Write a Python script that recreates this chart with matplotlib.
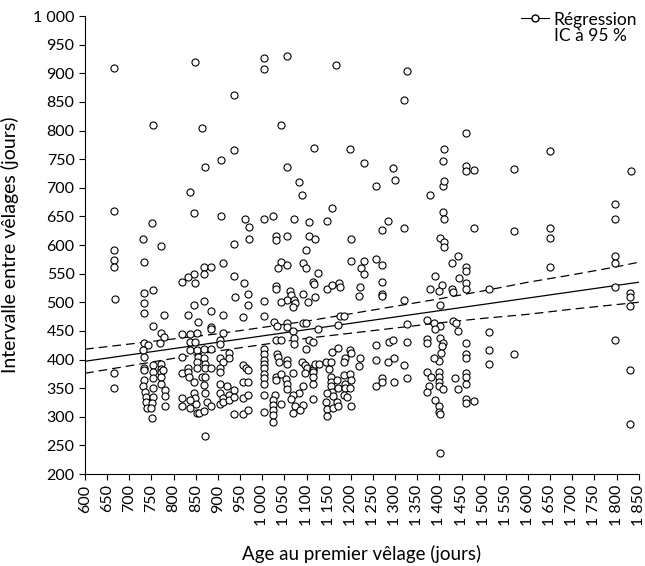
import matplotlib
matplotlib.use("Agg")
import matplotlib.pyplot as plt
from matplotlib.lines import Line2D

plt.rcParams['font.family'] = ['Lato', 'DejaVu Sans']

# individual cows: age at first calving (days), calving interval (days)
age = [666, 849, 1004, 1004, 1056, 1167, 936, 754, 863, 1042, 936, 1116, 1199,
       1326, 1319, 1460, 1411, 1649,
       871, 908, 1056, 1084, 1090, 836, 666, 846, 908, 751, 961, 970, 970, 1003, 1024, 1072,
       1105, 1147, 1158, 1200, 732, 771, 666, 666, 666, 733, 936, 911, 1031, 1031, 1057, 1105,
       1120, 1099, 1042, 1035, 1056, 1091, 1098, 1126, 1200, 869, 885, 869, 847, 833, 936,
       1229, 1295, 1408, 1460, 1460, 1477, 1568, 1833, 1257, 1299, 1408, 1410, 1379, 1408, 1410,
       1797, 1797, 1285, 1271, 1319, 1477, 1568, 1649, 1649, 1401, 1410, 1410, 1442, 1428, 1461,
       1461, 1390, 1444, 1229, 1222, 1229, 1257, 1271, 1649, 1797, 1797,
       1031, 1031, 1063, 1064, 1057, 1043, 1072, 1073, 1070, 1091, 1103, 1120, 1115, 1118, 1147,
       1158, 1174, 1176, 1221, 1219, 1270, 1270, 1270, 1319, 1379, 1406, 1400, 1401, 1428, 1430,
       1027, 1033, 1055, 1057, 1070, 1093, 1099, 1127, 1170, 1176, 1185, 1326, 1371, 1388, 1401,
       1389, 1430, 1437, 1443,
       1031, 1043, 1072, 1072, 1105, 1115, 1099, 1033, 1036, 1039, 1055, 1057, 1090, 1097, 1100,
       1115, 1114, 1120, 1128, 1158, 1170, 1198, 1201, 1188, 1185, 1221, 1219, 1257, 1286, 1296,
       1326, 1257, 1285, 1298, 1319, 1373, 1373, 1401, 1407, 1405, 1403, 1400, 1388,
       1031, 1031, 1043, 1054, 1055, 1057, 1069, 1091, 1097, 1115, 1115, 1115, 1143, 1150, 1155,
       1155, 1156, 1155, 1158, 1168, 1171, 1185, 1187, 1188, 1198, 1200, 1198, 1146, 1144, 1147,
       1146, 1159, 1159, 1168, 1170, 1185, 1191, 1201, 1115, 1084, 1070, 1093, 1075, 1070, 1085,
       1064, 1043, 1030, 1024, 1024, 1024, 1024, 1025,
       1257, 1270, 1270, 1298, 1326, 1373, 1380, 1377, 1373, 1390, 1400, 1400, 1400, 1400, 1407,
       1400, 1400, 1401, 1435, 1443, 1401,
       733, 733, 733, 753, 667, 778, 754, 820, 848, 846, 833, 854, 869, 885, 884, 884, 911, 939,
       959, 969, 969, 957, 1003, 1004,
       733, 743, 732, 733, 772, 778, 769, 820, 836, 852, 836, 848, 836, 852, 820, 856, 869, 884,
       911, 905, 905, 924, 905, 911, 1003, 1003, 1003, 1003,
       666, 666, 733, 733, 733, 732, 735, 737, 737, 739, 751, 753, 754, 753, 753, 753, 751, 748,
       772, 772, 772, 772, 772, 780, 780, 780, 775, 820, 820, 820, 833, 833, 835, 845, 846, 848,
       851, 852, 858, 836, 837, 852, 852, 863, 869, 871, 871, 871, 869, 871, 875, 869, 884, 884,
       871, 905, 905, 905, 905, 905, 911, 911, 924, 920, 924, 924, 936, 936, 936, 957, 957, 957,
       957, 963, 969, 969, 968, 968, 1003, 1003, 1003, 1003, 1003, 1003,
       1459, 1459, 1512, 1796, 1831, 1831, 1831, 1459, 1459, 1459, 1459, 1459, 1459, 1459, 1459,
       1478, 1512, 1512, 1512, 1569, 1796, 1831, 1831]

interval = [909, 919, 926, 908, 931, 915, 862, 809, 804, 810, 766, 770, 768,
            904, 854, 795, 768, 764,
            736, 748, 736, 710, 688, 693, 659, 656, 651, 639, 646, 631, 611, 645, 651, 645,
            640, 642, 665, 611, 610, 599, 592, 573, 561, 570, 601, 568, 615, 608, 616, 616,
            611, 591, 571, 559, 565, 568, 559, 552, 572, 562, 562, 549, 549, 545, 546,
            744, 735, 747, 738, 729, 731, 733, 730, 703, 713, 703, 711, 687, 658, 645,
            671, 645, 642, 626, 630, 629, 625, 629, 612, 612, 606, 597, 581, 568, 561,
            555, 546, 542, 572, 559, 549, 576, 565, 562, 581, 568,
            528, 523, 520, 513, 504, 501, 504, 499, 491, 514, 500, 510, 536, 532, 523,
            530, 534, 526, 527, 511, 536, 515, 511, 504, 523, 530, 520, 495, 524, 518,
            466, 459, 464, 457, 449, 463, 463, 453, 460, 476, 476, 462, 469, 463, 459,
            453, 468, 464, 450,
            434, 434, 437, 427, 434, 431, 418, 410, 404, 395, 399, 393, 396, 390, 386,
            386, 382, 392, 392, 414, 420, 417, 411, 402, 395, 402, 389, 425, 431, 434,
            431, 399, 396, 402, 390, 435, 429, 437, 429, 423, 411, 397, 402,
            370, 365, 374, 366, 358, 348, 376, 354, 376, 379, 370, 358, 396, 383, 396,
            370, 361, 353, 344, 364, 351, 373, 358, 350, 375, 364, 350, 341, 325, 313,
            301, 336, 315, 325, 318, 338, 335, 319, 331, 341, 338, 321, 318, 306, 311,
            331, 322, 338, 329, 321, 312, 303, 290,
            354, 367, 360, 360, 367, 379, 369, 354, 344, 329, 379, 370, 361, 353, 348,
            319, 309, 304, 367, 348, 236,
            517, 498, 482, 521, 506, 477, 459, 536, 533, 495, 477, 466, 502, 485, 457, 453, 478, 510,
            533, 514, 495, 474, 502, 476,
            428, 425, 417, 405, 447, 440, 428, 445, 445, 447, 430, 431, 417, 416, 405, 405, 418, 418,
            447, 434, 427, 412, 402, 395, 418, 410, 400, 393,
            377, 350, 385, 381, 364, 353, 344, 334, 325, 315, 297, 390, 379, 367, 350, 335, 324, 315,
            393, 383, 379, 370, 358, 347, 336, 319, 381, 376, 332, 318, 386, 379, 369, 361, 341, 332,
            322, 306, 307, 329, 315, 396, 386, 370, 402, 393, 385, 369, 356, 342, 325, 310, 319, 386,
            267, 385, 379, 357, 341, 322, 332, 326, 402, 353, 338, 329, 347, 335, 305, 390, 361, 332,
            305, 385, 382, 361, 338, 312, 386, 374, 367, 357, 338, 309,
            533, 524, 524, 526, 517, 509, 494, 428, 410, 402, 377, 370, 357, 331, 324,
            328, 448, 416, 393, 409, 434, 381, 287]

# fitted regression and 95 % confidence band
reg_x = [600, 1850]
reg_y = [397, 535]
ci_x = [600, 700, 800, 900, 1000, 1100, 1200, 1300, 1400, 1500, 1600, 1700, 1800, 1850]
ci_up = [418, 427, 436, 445, 456, 467, 480, 493, 506, 520, 535, 548, 562, 570]
ci_lo = [376, 389, 402, 415, 426, 437, 446, 455, 464, 472, 479, 488, 496, 500]

xticks = list(range(600, 1851, 50))
yticks = list(range(200, 1001, 50))


def fmt(v):
    return f"{v:,}".replace(",", " ")


fig = plt.figure(figsize=(6.45, 5.66), dpi=100)
ax = fig.add_axes([0.1318, 0.1625, 0.8585, 0.8092])

ax.scatter(age, interval, s=26, facecolors='white', edgecolors='black', linewidths=0.8, zorder=3)
ax.plot(reg_x, reg_y, color='black', lw=0.9, zorder=2)
ax.plot(ci_x, ci_up, color='black', lw=0.9, dashes=(7, 4), zorder=2)
ax.plot(ci_x, ci_lo, color='black', lw=0.9, dashes=(7, 4), zorder=2)

ax.set_xlim(600, 1850)
ax.set_ylim(200, 1000)
ax.set_xticks(xticks)
ax.set_xticklabels([fmt(v) for v in xticks], rotation=90, fontsize=11.5)
ax.set_yticks(yticks)
ax.set_yticklabels([fmt(v) for v in yticks], fontsize=11.5)
ax.tick_params(direction='out', length=4, width=0.8)
for side in ['top', 'right']:
    ax.spines[side].set_visible(False)
ax.spines['left'].set_linewidth(0.8)
ax.spines['bottom'].set_linewidth(0.8)

ax.set_xlabel('Age au premier vêlage (jours)', fontsize=13.5, labelpad=14)
ax.set_ylabel('Intervalle entre vêlages (jours)', fontsize=14, labelpad=10)

handles = [Line2D([], [], color='black', lw=0.8, marker='o', ms=5, mfc='white', mec='black'),
           Line2D([], [], color='none')]
ax.legend(handles, ['Régression', 'IC à 95 %'], loc='upper right', frameon=False,
          fontsize=12.5, handlelength=1.6, handletextpad=0.3, labelspacing=0.05,
          bbox_to_anchor=(1.01, 1.025), borderaxespad=0)

fig.savefig('out.png', dpi=100)
